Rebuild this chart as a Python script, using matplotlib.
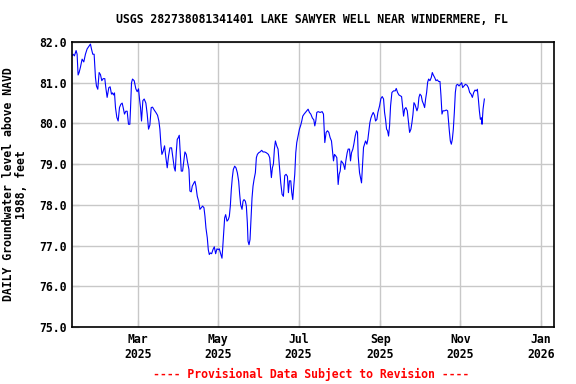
import numpy as np
import pandas as pd
import matplotlib
matplotlib.use("Agg")
import matplotlib.pyplot as plt
import matplotlib.dates as mdates

# Day-of-year 2025 (fractional) and groundwater level (ft)
doy = [10.0, 10.82, 11.84, 13.11, 13.87, 14.63, 15.39, 16.40, 17.67, 18.94, 20.20, 21.47, 22.74, 24.01,
       24.77, 25.78, 26.80, 27.81, 28.57, 29.58, 30.6, 31.61, 32.62, 33.64, 34.91, 35.67, 36.68, 37.95,
       38.96, 39.98, 40.74, 41.5, 42.26, 43.02, 44.03, 45.05, 46.06, 47.07, 48.09, 48.85, 49.86, 50.88,
       51.89, 52.9, 53.92, 54.42, 55.19, 55.95, 57.21, 58.48, 59.5, 60.51, 61.27, 62.03, 62.79, 63.8,
       64.82, 66.09, 67.1, 68.12, 69.13, 70.14, 71.16, 72.42, 73.69, 74.96, 75.97, 76.73, 77.5, 78.26,
       79.27, 80.28, 81.3, 82.31, 83.32, 84.34, 85.61, 86.62, 87.64,
       88.4, 89.16, 89.92, 90.68, 91.44, 92.2, 92.96, 93.97, 94.73, 95.75, 96.76, 97.78, 98.79, 99.55,
       100.56, 101.32, 102.59, 103.35, 104.11, 105.13, 106.14, 107.16, 108.17, 109.18, 110.2, 110.96,
       111.72, 112.73, 113.49, 114.25, 115.01, 116.03, 117.04, 118.06, 119.07, 120.08, 121.1, 121.86,
       122.87, 123.89, 124.39, 125.15, 125.91, 126.67, 127.69, 128.7, 129.46, 130.22, 130.98, 131.74,
       132.5, 133.52, 134.53, 135.55, 136.56, 137.32, 138.08, 139.1, 139.86, 140.62, 141.63, 142.39,
       143.15, 143.66, 144.42, 145.18, 145.94, 146.7, 147.46, 148.22, 149.24, 150.0, 150.76, 151.77,
       152.79, 154.05, 155.07, 156.33, 157.6, 159.12, 160.13, 160.9, 161.4, 162.16, 162.93, 163.69,
       164.45, 165.46, 166.47, 167.49, 168.5, 169.52, 170.53, 171.54, 172.56, 173.57, 174.33, 175.09,
       176.11, 176.87, 177.63, 178.39, 179.15, 179.91, 180.67, 181.68, 182.7, 183.71, 184.47, 185.23,
       186.25, 187.26, 188.28, 189.29, 190.3, 191.32, 192.58, 193.6, 194.36, 195.12, 195.88, 196.89,
       198.42, 199.94, 200.95, 201.96, 202.98, 203.99, 205.01, 206.02, 207.03, 207.79, 208.56, 209.32,
       210.33, 211.09, 212.1, 212.86, 213.63, 214.39, 215.4, 216.16, 217.17, 217.93, 218.95, 219.71,
       220.72, 221.48, 222.24, 223.26, 224.02, 225.03, 226.05, 226.81, 227.31, 228.33, 229.09, 229.85,
       230.61, 231.37, 232.13, 232.89, 233.9, 234.67, 235.43, 236.19, 236.95, 237.71, 238.72, 239.74,
       240.5, 241.51, 242.27, 243.54, 244.55, 245.56, 246.58, 247.34, 248.1, 248.86, 249.62, 250.38,
       251.14, 251.9, 252.92, 254.18, 255.45, 256.21, 257.22, 258.24, 259.25, 260.27, 261.03, 261.79,
       262.55, 263.56, 264.58, 265.59, 266.35, 267.36, 268.13, 268.89, 269.65, 270.41, 271.17, 271.93,
       272.69, 273.45, 274.21, 275.22, 275.98, 276.99, 277.76, 278.52, 279.28, 280.04, 280.8, 281.81,
       282.83, 283.59, 284.35, 285.36, 286.38, 287.39, 288.41, 289.42, 290.18, 290.94, 291.7, 292.97,
       294.24, 295.25, 296.01, 296.52, 297.28, 298.04, 298.8, 299.56, 300.32, 301.08, 301.84, 302.85,
       303.87, 304.88, 305.9, 306.66, 307.67, 308.69, 309.95, 310.97, 311.98, 313.0, 314.01, 315.02,
       316.04, 317.05, 317.81, 318.57, 319.33, 320.09, 320.85, 321.36, 322.12, 323.13]
level = [81.66, 81.70, 81.66, 81.79, 81.70, 81.19, 81.25, 81.38, 81.58, 81.51, 81.70, 81.83, 81.89, 81.95,
         81.83, 81.70, 81.70, 81.13, 80.92, 80.84, 81.25, 81.2, 81.05, 81.1, 81.1, 80.88, 80.64, 80.88,
         80.9, 80.72, 80.75, 80.7, 80.75, 80.39, 80.15, 80.06, 80.39, 80.47, 80.5, 80.39, 80.23, 80.3,
         80.3, 79.98, 79.98, 80.35, 81.0, 81.09, 81.05, 80.85, 80.78, 80.85, 80.6, 80.39, 80.06, 80.56,
         80.6, 80.5, 80.23, 79.86, 79.96, 80.39, 80.4, 80.33, 80.27, 80.2, 80.06, 79.86, 79.49, 79.24,
         79.32, 79.45, 79.16, 78.91, 79.2, 79.4, 79.4, 79.16, 78.91,
         78.83, 79.28, 79.61, 79.65, 79.71, 79.28, 78.83, 78.83, 79.04, 79.30, 79.24, 79.04, 78.87, 78.34,
         78.32, 78.46, 78.54, 78.58, 78.46, 78.21, 78.09, 77.89, 77.93, 77.97, 77.93, 77.72,
         77.43, 77.19, 76.90, 76.78, 76.82, 76.8, 76.9, 76.97, 76.8, 76.92, 76.9, 76.92,
         76.8, 76.69, 76.92, 77.31, 77.68, 77.76, 77.6, 77.64, 77.72, 77.97, 78.38, 78.67,
         78.87, 78.95, 78.91, 78.79, 78.58, 78.26, 78.0, 77.89, 78.09, 78.13, 78.09, 77.97,
         77.56, 77.11, 77.02, 77.15, 77.64, 78.17, 78.46, 78.62, 78.79, 79.16, 79.24, 79.28,
         79.30, 79.34, 79.3, 79.3, 79.28, 79.24, 79.16, 78.87, 78.67, 78.91, 79.0, 79.37,
         79.57, 79.45, 79.37, 78.96, 78.54, 78.26, 78.21, 78.72, 78.75, 78.7, 78.3, 78.59,
         78.59, 78.3, 78.13, 78.46, 78.75, 79.28, 79.53, 79.69, 79.86, 79.96, 80.06, 80.18,
         80.23, 80.27, 80.31, 80.35, 80.27, 80.23, 80.13, 80.09, 79.94, 80.06, 80.27, 80.29,
         80.27, 80.29, 80.23, 79.53, 79.78, 79.82, 79.78, 79.65, 79.57, 79.33, 79.08, 79.24,
         79.2, 79.16, 78.5, 78.75, 78.83, 79.08, 79.04, 79.0, 78.87, 79.08, 79.28, 79.37,
         79.37, 79.08, 79.28, 79.37, 79.49, 79.69, 79.82, 79.78, 79.2, 78.79, 78.67, 78.54,
         78.96, 79.41, 79.49, 79.57, 79.49, 79.61, 79.82, 80.02, 80.13, 80.2, 80.27, 80.2,
         80.06, 80.1, 80.27, 80.43, 80.61, 80.66, 80.6, 80.27, 80.1, 79.86, 79.82, 79.69,
         79.94, 80.43, 80.76, 80.8, 80.8, 80.86, 80.76, 80.7, 80.68, 80.66, 80.43, 80.18,
         80.35, 80.39, 80.31, 80.02, 79.78, 79.86, 80.02, 80.22, 80.51, 80.47, 80.39, 80.31,
         80.39, 80.64, 80.72, 80.68, 80.55, 80.47, 80.39, 80.6, 80.76, 81.01, 81.09, 81.05,
         81.13, 81.25, 81.19, 81.13, 81.05, 81.07, 81.03, 81.03, 80.68, 80.23, 80.31, 80.31,
         80.33, 80.31, 80.02, 79.82, 79.57, 79.49, 79.61, 79.86, 80.27, 80.76, 80.94, 80.96,
         80.92, 80.96, 81.0, 80.88, 80.92, 80.96, 80.94, 80.88, 80.76, 80.72, 80.64, 80.76,
         80.82, 80.8, 80.84, 80.6, 80.31, 80.1, 80.14, 79.98, 80.35, 80.6]

title = "USGS 282738081341401 LAKE SAWYER WELL NEAR WINDERMERE, FL"
ylabel = "DAILY Groundwater level above NAVD\n1988, feet"
footer = "---- Provisional Data Subject to Revision ----"
x_start, x_end = "2025-01-10", "2026-01-11"
y_ticks = [75.0, 76.0, 77.0, 78.0, 79.0, 80.0, 81.0, 82.0]

font = dict(family="DejaVu Sans Mono", weight="bold", size=8.3)

dates = pd.Timestamp("2025-01-01") + pd.to_timedelta(np.array(doy) - 1, unit="D")

fig = plt.figure(figsize=(5.76, 3.84), dpi=100)
ax = fig.add_axes([0.125, 0.1484, 0.8368, 0.7422])
ax.plot(dates, level, color="#0000ff", lw=0.8)

ax.set_xlim(pd.Timestamp(x_start), pd.Timestamp(x_end))
ax.set_ylim(75.0, 82.0)
ax.set_yticks(y_ticks)
ax.set_yticklabels([f"{v:.1f}" for v in y_ticks], **font)
ax.xaxis.set_major_locator(mdates.MonthLocator(bymonth=[1, 3, 5, 7, 9, 11]))
ax.xaxis.set_major_formatter(mdates.DateFormatter("%b\n%Y"))
for lab in ax.get_xticklabels():
    lab.set_fontfamily("DejaVu Sans Mono")
    lab.set_fontweight("bold")
    lab.set_fontsize(8.3)
ax.grid(True, color="#c8c8c8", lw=1.0)
ax.set_axisbelow(True)
ax.tick_params(axis="both", direction="in", length=5, width=1, color="#c8c8c8", pad=4)
for s in ax.spines.values():
    s.set_color("black")
    s.set_linewidth(1.2)

ax.set_ylabel(ylabel, labelpad=8, linespacing=1.0, **font)
fig.text(0.542, 0.95, title, ha="center", va="center", **font)
fig.text(0.54, 0.024, footer, ha="center", va="center", color="red", **font)

fig.savefig("out.png", dpi=100)
